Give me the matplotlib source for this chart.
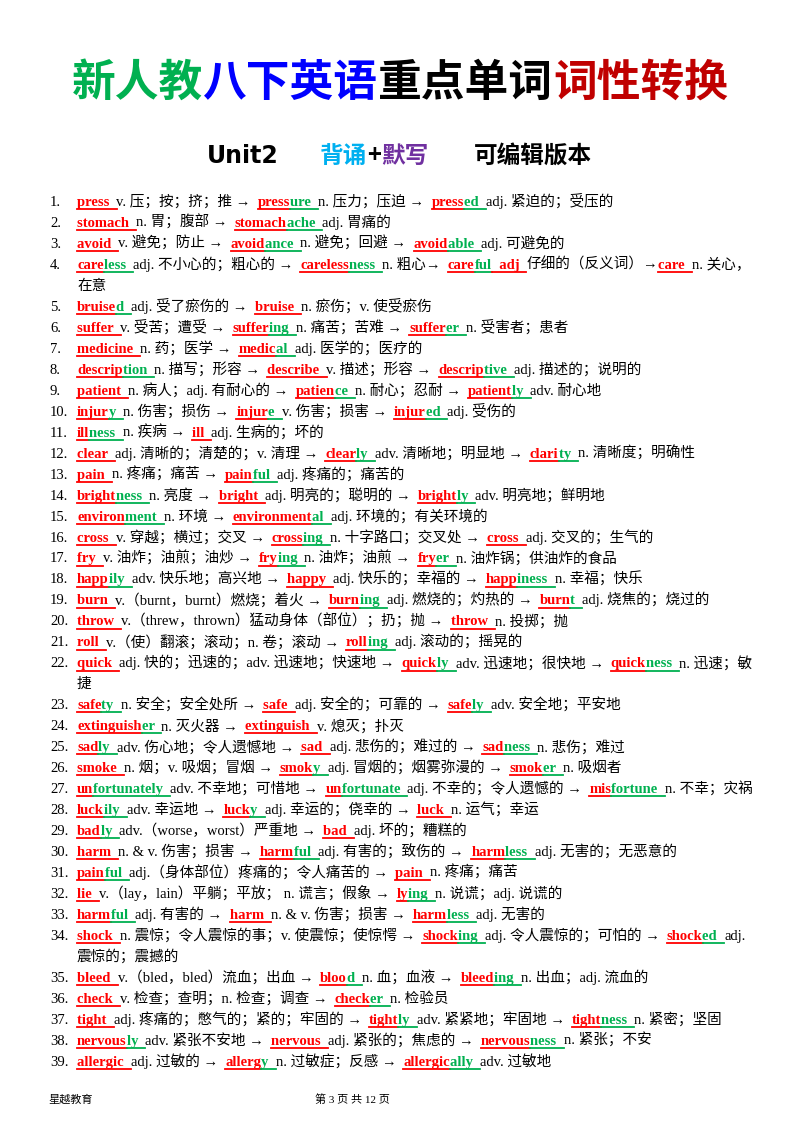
import matplotlib
matplotlib.use("Agg")
import matplotlib.pyplot as plt
from matplotlib.lines import Line2D

W, H = 800, 1132
fig = plt.figure(figsize=(8, 11.32), dpi=100)
fig.patch.set_facecolor("white")
renderer = fig.canvas.get_renderer()

RED = "#ff0000"
GREEN = "#00b050"
FAM = ["Liberation Serif", "Noto Sans CJK SC", "DejaVu Sans"]

title_parts = [("新人教", "#00b050"), ("八下英语", "#0000ff"), ("重点单词", "#000000"), ("词性转换", "#c00000")]
sub_parts = [("背诵", "#00b0f0"), ("+", "#000000"), ("默写", "#7030a0")]

items = [
    ["[press ]v. 压；按；挤；推 → [press{ure }]n. 压力；压迫 → [press{ed }]adj. 紧迫的；受压的"],
    ["[stomach ]n. 胃；腹部 → [stomach{ache }]adj. 胃痛的"],
    ["[avoid ]v. 避免；防止 → [avoid{ance }]n. 避免；回避 → [avoid{able }]adj. 可避免的"],
    ["[care{less }]adj. 不小心的；粗心的 → [careless{ness }]n. 粗心→ [care{ful}  adj ]仔细的（反义词）→[care ]n. 关心，", "在意"],
    ["[bruise{d }]adj. 受了瘀伤的 → [bruise ]n. 瘀伤；v. 使受瘀伤"],
    ["[suffer ]v. 受苦；遭受 → [suffer{ing }]n. 痛苦；苦难 → [suffer{er }]n. 受害者；患者"],
    ["[medicine ]n. 药；医学 → [medic{al }]adj. 医学的；医疗的"],
    ["[descrip{tion }]n. 描写；形容 → [describe ]v. 描述；形容 → [descrip{tive }]adj. 描述的；说明的"],
    ["[patient ]n. 病人；adj. 有耐心的 → [patien{ce }]n. 耐心；忍耐 → [patient{ly }]adv. 耐心地"],
    ["[injur{y }]n. 伤害；损伤 → [injur{e }]v. 伤害；损害 → [injur{ed }]adj. 受伤的"],
    ["[ill{ness }]n. 疾病 → [ill ]adj. 生病的；坏的"],
    ["[clear ]adj. 清晰的；清楚的；v. 清理 → [clear{ly }]adv. 清晰地；明显地 → [clari{ty }]n. 清晰度；明确性"],
    ["[pain ]n. 疼痛；痛苦 → [pain{ful }]adj. 疼痛的；痛苦的"],
    ["[bright{ness }]n. 亮度 → [bright ]adj. 明亮的；聪明的 → [bright{ly }]adv. 明亮地；鲜明地"],
    ["[environ{ment }]n. 环境 → [environment{al }]adj. 环境的；有关环境的"],
    ["[cross ]v. 穿越；横过；交叉 → [cross{ing }]n. 十字路口；交叉处 → [cross ]adj. 交叉的；生气的"],
    ["[fry ]v. 油炸；油煎；油炒 → [fry{ing }]n. 油炸；油煎 → [fry{er }]n. 油炸锅；供油炸的食品"],
    ["[happ{ily }]adv. 快乐地；高兴地 → [happy ]adj. 快乐的；幸福的 → [happ{iness }]n. 幸福；快乐"],
    ["[burn ]v.（burnt，burnt）燃烧；着火 → [burn{ing }]adj. 燃烧的；灼热的 → [burn{t }]adj. 烧焦的；烧过的"],
    ["[throw ]v.（threw，thrown）猛动身体（部位）；扔；抛 → [throw ]n. 投掷；抛"],
    ["[roll ]v.（使）翻滚；滚动；n. 卷；滚动 → [roll{ing }]adj. 滚动的；摇晃的"],
    ["[quick ]adj. 快的；迅速的；adv. 迅速地；快速地 → [quick{ly }]adv. 迅速地；很快地 → [quick{ness }]n. 迅速；敏", "捷"],
    ["[safe{ty }]n. 安全；安全处所 → [safe ]adj. 安全的；可靠的 → [safe{ly }]adv. 安全地；平安地"],
    ["[extinguish{er }]n. 灭火器 → [extinguish ]v. 熄灭；扑灭"],
    ["[sad{ly }]adv. 伤心地；令人遗憾地 → [sad ]adj. 悲伤的；难过的 → [sad{ness }]n. 悲伤；难过"],
    ["[smoke ]n. 烟；v. 吸烟；冒烟 → [smok{y }]adj. 冒烟的；烟雾弥漫的 → [smok{er }]n. 吸烟者"],
    ["[un{fortunately }]adv. 不幸地；可惜地 → [un{fortunate }]adj. 不幸的；令人遗憾的 → [mis{fortune }]n. 不幸；灾祸"],
    ["[luck{ily }]adv. 幸运地 → [luck{y }]adj. 幸运的；侥幸的 → [luck ]n. 运气；幸运"],
    ["[bad{ly }]adv.（worse，worst）严重地 → [bad ]adj. 坏的；糟糕的"],
    ["[harm ]n. & v. 伤害；损害 → [harm{ful }]adj. 有害的；致伤的 → [harm{less }]adj. 无害的；无恶意的"],
    ["[pain{ful }]adj.（身体部位）疼痛的；令人痛苦的 → [pain ]n. 疼痛；痛苦"],
    ["[lie ]v.（lay，lain）平躺；平放； n. 谎言；假象 → [ly{ing }]n. 说谎；adj. 说谎的"],
    ["[harm{ful }]adj. 有害的 → [harm ]n. & v. 伤害；损害 → [harm{less }]adj. 无害的"],
    ["[shock ]n. 震惊；令人震惊的事；v. 使震惊；使惊愕 → [shock{ing }]adj. 令人震惊的；可怕的 → [shock{ed }]adj.", "震惊的；震撼的"],
    ["[bleed ]v.（bled，bled）流血；出血 → [bloo{d }]n. 血；血液 → [bleed{ing }]n. 出血；adj. 流血的"],
    ["[check ]v. 检查；查明；n. 检查；调查 → [check{er }]n. 检验员"],
    ["[tight ]adj. 疼痛的；憋气的；紧的；牢固的 → [tight{ly }]adv. 紧紧地；牢固地 → [tight{ness }]n. 紧密；坚固"],
    ["[nervous{ly }]adv. 紧张不安地 → [nervous ]adj. 紧张的；焦虑的 → [nervous{ness }]n. 紧张；不安"],
    ["[allergic ]adj. 过敏的 → [allerg{y }]n. 过敏症；反感 → [allergic{ally }]adv. 过敏地"],
]


def parse(s):
    segs, buf, state = [], "", "plain"
    for ch in s:
        if ch in "[]{}":
            if buf:
                segs.append((buf, state))
            buf = ""
            state = {"[": "red", "]": "plain", "{": "green", "}": "red"}[ch]
        else:
            buf += ch
    if buf:
        segs.append((buf, state))
    return segs


def px(x, y):
    return x / W, 1 - y / H


def draw_line(x, y, s, size=10.5):
    for txt, st in parse(s):
        color = {"plain": "black", "red": RED, "green": GREEN}[st]
        weight = "normal" if st == "plain" else "bold"
        t = fig.text(*px(x, y), txt, fontsize=size, color=color, weight=weight,
                     family=FAM, va="baseline", ha="left")
        bb = t.get_window_extent(renderer)
        w = bb.width
        if txt.endswith(" "):
            w += 3.5
        if st != "plain":
            fig.add_artist(Line2D([x / W, (x + w) / W], [1 - (y + 3.2) / H] * 2,
                                  color=color, lw=1.3, transform=fig.transFigure))
        x += w


# title
tx = []
for txt, c in title_parts:
    tx.append(fig.text(0, 0, txt, fontsize=31.5, weight="black", family=["Noto Sans CJK SC"], color=c))
total = sum(t.get_window_extent(renderer).width for t in tx)
x = 400 - total / 2
for t in tx:
    w = t.get_window_extent(renderer).width
    t.set_position(px(x, 96))
    t.set_va("baseline")
    x += w

# subtitle
fig.text(*px(243, 163), "Unit2", fontsize=17, weight="bold", family=["DejaVu Sans"],
         ha="center", va="baseline")
x = 320
for txt, c in sub_parts:
    t = fig.text(*px(x, 163), txt, fontsize=17, weight="bold", family=["Noto Sans CJK SC"], color=c, va="baseline")
    x += t.get_window_extent(renderer).width
fig.text(*px(533, 163), "可编辑版本", fontsize=17, weight="bold", family=["Noto Sans CJK SC"],
         ha="center", va="baseline")

# body
y0, step = 206, 20.97
row = 0
for i, lines in enumerate(items, 1):
    fig.text(*px(50, y0 + row * step), f"{i}.", fontsize=10.5, family=FAM, va="baseline")
    for ln in lines:
        draw_line(77, y0 + row * step, ln)
        row += 1

# footer
fig.text(*px(48, 1103), "星越教育", fontsize=8, family=["Noto Sans CJK SC"], va="baseline")
fig.text(*px(352, 1103), "第 3 页 共 12 页", fontsize=8, family=FAM, va="baseline", ha="center")

fig.savefig("out.png", dpi=100)
